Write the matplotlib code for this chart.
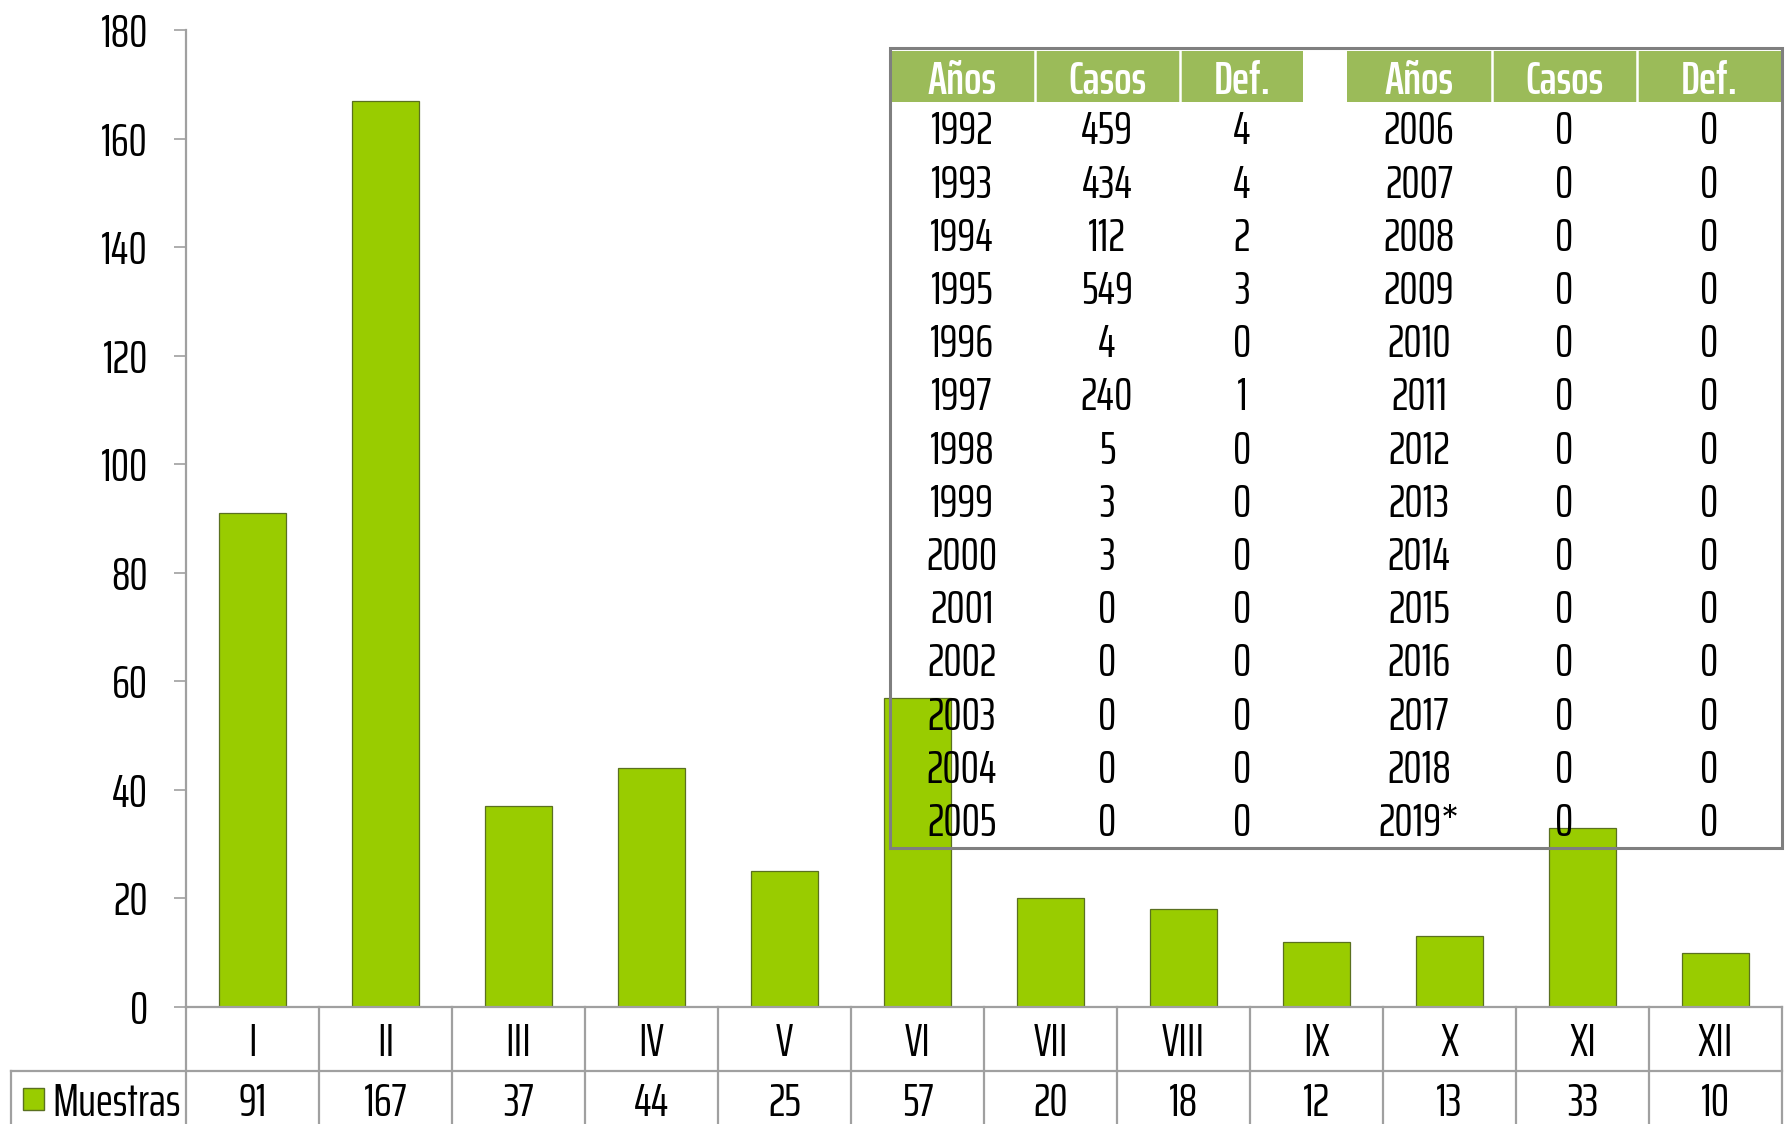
import os
import matplotlib
matplotlib.use('Agg')
import matplotlib.pyplot as plt
from matplotlib import font_manager as fm
from matplotlib.patches import Rectangle

W, H = 1791, 1124

# monthly samples
months = ['I', 'II', 'III', 'IV', 'V', 'VI', 'VII', 'VIII', 'IX', 'X', 'XI', 'XII']
muestras = [91, 167, 37, 44, 25, 57, 20, 18, 12, 13, 33, 10]

# yearly cases / deaths (inset table)
years_a = ['1992', '1993', '1994', '1995', '1996', '1997', '1998',
           '1999', '2000', '2001', '2002', '2003', '2004', '2005']
casos_a = [459, 434, 112, 549, 4, 240, 5, 3, 3, 0, 0, 0, 0, 0]
def_a = [4, 4, 2, 3, 0, 1, 0, 0, 0, 0, 0, 0, 0, 0]
years_b = ['2006', '2007', '2008', '2009', '2010', '2011', '2012',
           '2013', '2014', '2015', '2016', '2017', '2018', '2019*']
casos_b = [0, 0, 0, 0, 0, 0, 0, 0, 0, 0, 0, 0, 0, 0]
def_b = [0, 0, 0, 0, 0, 0, 0, 0, 0, 0, 0, 0, 0, 0]

BAR = '#99CC00'
BAR_EDGE = '#5a7020'
HEAD = '#9BBB59'
LINE = '#a0a0a0'


def find_file(names):
    files = {os.path.basename(f.fname): f.fname for f in fm.fontManager.ttflist}
    for n in names:
        if n in files:
            return files[n]
    return None


def condensed_font(bold=False):
    """Fallback: narrowest installed upright font file."""
    target = 700 if bold else 400
    best, best_key = None, None
    for f in fm.fontManager.ttflist:
        base = os.path.basename(f.fname).lower()
        if 'italic' in base or 'oblique' in base:
            continue
        if 'extracondensed' in base:
            rank = 0
        elif 'narrow' in base:
            rank = 1
        elif 'condensed' in base:
            rank = 2
        else:
            continue
        w = f.weight if isinstance(f.weight, int) else fm.weight_dict.get(f.weight, 400)
        key = (abs(w - target) > 150, rank, abs(w - target))
        if best_key is None or key < best_key:
            best, best_key = f.fname, key
    return best


# Agency FB stand-in
REG_FILE = find_file(['SairaExtraCondensed-Regular.ttf']) or condensed_font(False)
BOLD_FILE = (find_file(['SairaExtraCondensed-SemiBold.ttf', 'SairaExtraCondensed-Bold.ttf'])
             or condensed_font(True) or REG_FILE)


def fp(size, bold=False):
    path = BOLD_FILE if bold else REG_FILE
    if path:
        return fm.FontProperties(fname=path, size=size)
    return fm.FontProperties(family='DejaVu Sans', size=size * 0.7,
                             weight='bold' if bold else 'normal')


FS = 33
DY = 4  # nudge text down a little (pixels)

fig = plt.figure(figsize=(W / 100, H / 100), dpi=100)
fig.patch.set_facecolor('white')

# main bar axes
x0, x1, y_top, y_zero = 186, 1782, 30, 1007
ax = fig.add_axes([x0 / W, 1 - y_zero / H, (x1 - x0) / W, (y_zero - y_top) / H])
xs = list(range(len(months)))
ax.bar(xs, muestras, width=0.505, color=BAR, edgecolor=BAR_EDGE, linewidth=0.9, zorder=2)
ax.set_xlim(-0.5, len(months) - 0.5)
ax.set_ylim(0, 180)
ax.set_yticks(range(0, 181, 20))
ax.set_xticks([])
for s in ['top', 'right']:
    ax.spines[s].set_visible(False)
for s in ['left', 'bottom']:
    ax.spines[s].set_color(LINE)
    ax.spines[s].set_linewidth(1.6)
ax.tick_params(axis='y', direction='out', length=8.5, width=1.2, color=LINE, pad=19)
for lab in ax.get_yticklabels():
    lab.set_fontproperties(fp(FS))

# data table under the axis (x in category units, y in axes fraction)
tr = ax.get_xaxis_transform()
ph = y_zero - y_top


def fy(py):
    return -(py - y_zero) / ph


leg_left = (11 - x0) / 133.0 - 0.5
n = len(months)
for k in range(n + 1):
    ax.plot([k - 0.5, k - 0.5], [0, fy(H)], color=LINE, lw=1.6,
            transform=tr, clip_on=False)
ax.plot([leg_left, n - 0.5], [fy(1071), fy(1071)], color=LINE, lw=1.6,
        transform=tr, clip_on=False)
ax.plot([leg_left, leg_left], [fy(1071), fy(H)], color=LINE, lw=1.6,
        transform=tr, clip_on=False)
for i, (m, v) in enumerate(zip(months, muestras)):
    ax.text(i, fy(1039 + DY), m, ha='center', va='center', color='black',
            fontproperties=fp(FS), transform=tr, clip_on=False)
    ax.text(i, fy(1099 + DY), str(v), ha='center', va='center', color='black',
            fontproperties=fp(FS), transform=tr, clip_on=False)

# overlay in pixel coordinates for legend key and inset table
ov = fig.add_axes([0, 0, 1, 1], zorder=5)
ov.set_xlim(0, W)
ov.set_ylim(H, 0)
ov.axis('off')
ov.patch.set_alpha(0)
ov.add_patch(Rectangle((23, 1088), 21, 22, facecolor=BAR, edgecolor=BAR_EDGE, lw=1))
ov.text(52, 1099 + DY, 'Muestras', ha='left', va='center', fontproperties=fp(FS))

# inset table of yearly cases
tl, tt, tr_, tb = 890, 48, 1782, 848
head_top, head_bot = 51, 102
col_edges = [890, 1035, 1180, 1303]
col_edges_b = [1347, 1492, 1637, 1782]
ov.add_patch(Rectangle((col_edges[0], head_top), col_edges[-1] - col_edges[0],
                       head_bot - head_top, facecolor=HEAD, edgecolor='none'))
ov.add_patch(Rectangle((col_edges_b[0], head_top), col_edges_b[-1] - col_edges_b[0],
                       head_bot - head_top, facecolor=HEAD, edgecolor='none'))
for xe in [1035, 1180, 1492, 1637]:
    ov.plot([xe, xe], [head_top, head_bot], color='white', lw=1.8)
ov.add_patch(Rectangle((tl, tt), tr_ - tl, tb - tt, facecolor='none',
                       edgecolor='#7f7f7f', lw=2.2))

headers = ['Años', 'Casos', 'Def.']
cx_a = [962, 1107, 1242]
cx_b = [1419, 1564, 1709]
for c, h in enumerate(headers):
    ov.text(cx_a[c], 77 + DY, h, ha='center', va='center', color='white', fontproperties=fp(FS, True))
    ov.text(cx_b[c], 77 + DY, h, ha='center', va='center', color='white', fontproperties=fp(FS, True))

row0, dy = 128, 53.2
for r in range(len(years_a)):
    y = row0 + r * dy + DY
    for c, val in enumerate([years_a[r], casos_a[r], def_a[r]]):
        ov.text(cx_a[c], y, str(val), ha='center', va='center', fontproperties=fp(FS))
    for c, val in enumerate([years_b[r], casos_b[r], def_b[r]]):
        ov.text(cx_b[c], y, str(val), ha='center', va='center', fontproperties=fp(FS))

fig.savefig('out.png', dpi=100)
